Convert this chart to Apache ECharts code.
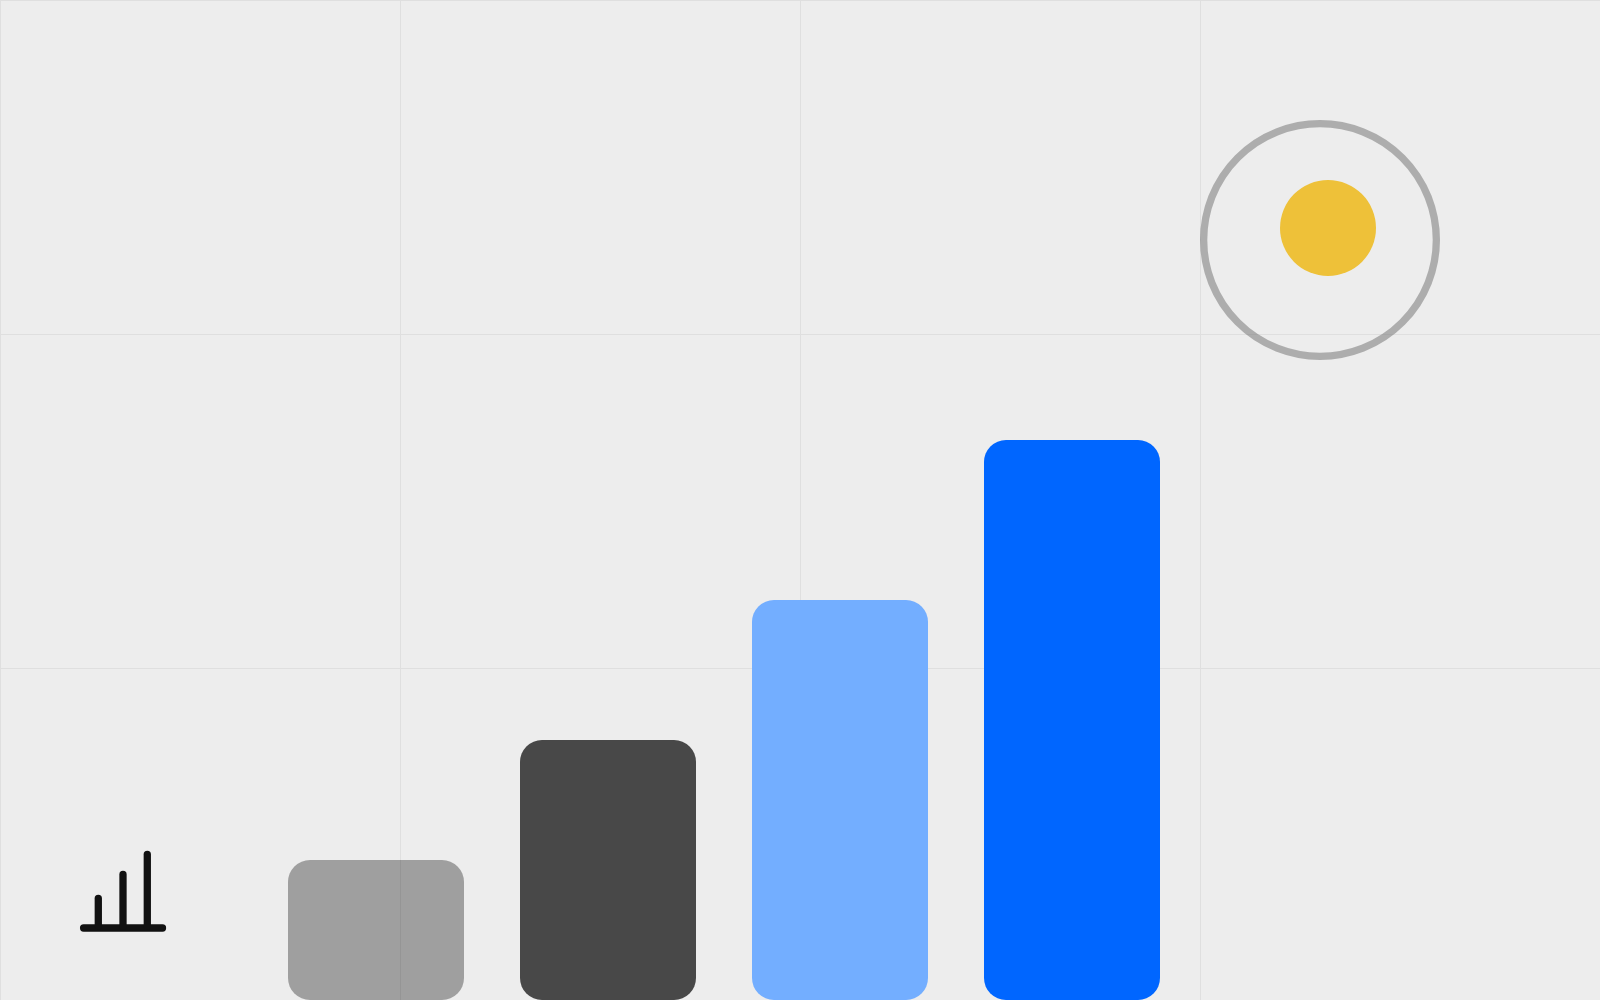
<!DOCTYPE html>
<html>
<head>
<meta charset="utf-8">
<style>html,body{margin:0;padding:0;background:#ededed}#chart{width:1600px;height:1000px}</style>
<script src="https://cdn.jsdelivr.net/npm/echarts@6/dist/echarts.min.js"></script>
</head>
<body>
<div id="chart"></div>
<script>
// Bars
const categories = ['A', 'B', 'C', 'D'];
const barValues = [140, 260, 400, 560];
const barColors = ['rgba(0,0,0,0.33)', '#484848', '#73aeff', '#0066ff'];

// Overlay marks, in overlay-axis units
const ringPoint = [1320, 240];
const dotPoint = [1328, 228];

// Small bar-chart icon strokes
const iconBase = [[83.6, 928], [162.5, 928]];
const iconStem1 = [[98.3, 926], [98.3, 898.5]];
const iconStem2 = [[123, 926], [123, 874.5]];
const iconStem3 = [[147.3, 926], [147.3, 854.5]];

const iconStrokes = [iconBase, iconStem1, iconStem2, iconStem3];

const chart = echarts.init(document.getElementById('chart'), null, {renderer: 'canvas'});
chart.setOption({
  animation: false,
  backgroundColor: '#ededed',
  grid: [
    {left: 0, top: 0, width: 1600, height: 1000, containLabel: false},
    {left: 260, top: 0, width: 928, height: 1000, containLabel: false}
  ],
  xAxis: [
    {type: 'value', gridIndex: 0, min: 0, max: 1600, interval: 400,
     axisLine: {show: false}, axisTick: {show: false}, axisLabel: {show: false},
     splitLine: {show: true, lineStyle: {color: '#dfdfdf', width: 1}}},
    {type: 'category', gridIndex: 1, data: categories,
     axisLine: {show: false}, axisTick: {show: false}, axisLabel: {show: false}, splitLine: {show: false}}
  ],
  yAxis: [
    {type: 'value', gridIndex: 0, min: 0, max: 1000, interval: 334, inverse: true,
     axisLine: {show: false}, axisTick: {show: false}, axisLabel: {show: false},
     splitLine: {show: true, showMaxLine: false, lineStyle: {color: '#dfdfdf', width: 1}}},
    {type: 'value', gridIndex: 1, min: 0, max: 1000,
     axisLine: {show: false}, axisTick: {show: false}, axisLabel: {show: false}, splitLine: {show: false}}
  ],
  series: [
    {type: 'bar', xAxisIndex: 1, yAxisIndex: 1, barWidth: 176, silent: true,
     data: barValues.map((v, i) => ({value: v, itemStyle: {color: barColors[i], borderRadius: 22}}))},
    {type: 'scatter', xAxisIndex: 0, yAxisIndex: 0, silent: true, symbol: 'circle', symbolSize: 232.7,
     itemStyle: {color: 'rgba(0,0,0,0)', borderColor: 'rgba(110,110,110,0.5)', borderWidth: 7.3, opacity: 1},
     data: [ringPoint]},
    {type: 'scatter', xAxisIndex: 0, yAxisIndex: 0, silent: true, symbol: 'circle', symbolSize: 96,
     itemStyle: {color: '#eec139', opacity: 1},
     data: [dotPoint]},
    ...iconStrokes.map(pts => ({
      type: 'line', xAxisIndex: 0, yAxisIndex: 0, silent: true, showSymbol: false,
      lineStyle: {color: '#111111', width: 7.3, cap: 'round'}, data: pts
    }))
  ]
});
</script>
</body>
</html>
